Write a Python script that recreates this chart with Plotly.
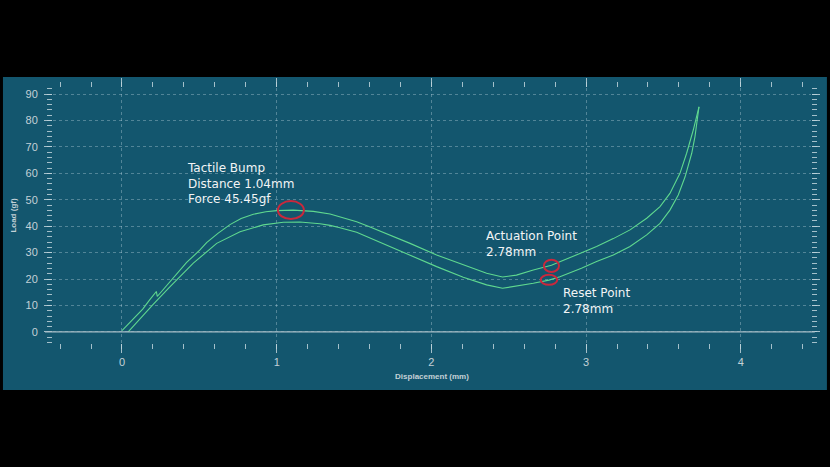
import plotly.graph_objects as go

# ---- data ----
press_x = [0.0, 0.05, 0.134, 0.18, 0.222, 0.228, 0.26, 0.30, 0.35, 0.418, 0.504, 0.547,
           0.62, 0.698, 0.77, 0.849, 0.93, 1.0, 1.107, 1.237, 1.345, 1.45, 1.517, 1.60,
           1.689, 1.862, 2.034, 2.206, 2.357, 2.46, 2.55, 2.659, 2.776, 2.85, 2.96, 3.068,
           3.176, 3.284, 3.392, 3.478, 3.542, 3.607, 3.65, 3.693, 3.73]
press_y = [0.5, 3.5, 8.6, 12.2, 15.3, 13.4, 15.6, 18.6, 22.0, 26.3, 31.0, 33.8,
           37.3, 40.6, 42.9, 44.5, 45.5, 45.9, 46.1, 45.6, 44.6, 43.0, 41.7, 39.8,
           37.7, 33.5, 29.1, 25.3, 22.2, 20.8, 21.5, 23.4, 25.2, 27.0, 29.6, 32.3,
           35.3, 38.6, 43.0, 47.4, 52.4, 60.0, 67.6, 76.4, 85.2]

release_x = [3.73, 3.715, 3.704, 3.683, 3.64, 3.596, 3.542, 3.478, 3.392, 3.284, 3.176,
             3.068, 2.97, 2.831, 2.76, 2.659, 2.594, 2.46, 2.357, 2.206, 2.034, 1.862,
             1.689, 1.517, 1.409, 1.345, 1.28, 1.15, 1.043, 0.913, 0.763, 0.612, 0.461,
             0.396, 0.30, 0.20, 0.10, 0.04]
release_y = [85.2, 78.9, 73.9, 67.6, 58.7, 51.8, 46.1, 41.1, 36.7, 32.3, 29.1,
             26.6, 24.1, 20.9, 19.6, 18.4, 17.8, 16.5, 17.8, 20.7, 24.7, 29.1,
             33.5, 37.7, 39.4, 40.3, 40.9, 41.6, 41.5, 40.5, 37.9, 33.5, 26.0,
             22.2, 16.5, 10.3, 3.8, 0.0]

# annotation texts and marked points
note_texts = ["Tactile Bump<br>Distance 1.04mm<br>Force 45.45gf",
              "Actuation Point<br>2.78mm",
              "Reset Point<br>2.78mm"]
note_x = [0.405, 2.34, 2.836]
note_y = [56.0, 33.2, 11.6]
mark_x = [1.092, 2.776, 2.760]
mark_y = [46.1, 25.0, 19.7]
mark_rx = [0.084, 0.049, 0.054]
mark_ry = [3.4, 2.3, 1.9]

x_ticks = [0, 1, 2, 3, 4]
y_ticks = [0, 10, 20, 30, 40, 50, 60, 70, 80, 90]

TEAL = "#13566e"
LINE = "#5fd88f"
TICKC = "rgba(190,210,218,0.85)"
GRID = "rgba(200,222,232,0.35)"

fig = go.Figure()
fig.add_trace(go.Scatter(x=press_x, y=press_y, mode="lines",
                         line=dict(color=LINE, width=1.1), showlegend=False))
fig.add_trace(go.Scatter(x=release_x, y=release_y, mode="lines",
                         line=dict(color=LINE, width=1.1), showlegend=False))

shapes = []
# background panel
shapes.append(dict(type="rect", xref="paper", yref="paper", x0=-0.066, x1=1.021,
                   y0=-0.184, y1=1.043, fillcolor=TEAL, line=dict(width=0), layer="below"))
# zero line extended
shapes.append(dict(type="line", xref="paper", yref="y", x0=-0.0106, x1=1.005, y0=0, y1=0,
                   line=dict(color="#a9bec7", width=1.3), layer="above"))
for cx, cy, rx, ry in zip(mark_x, mark_y, mark_rx, mark_ry):
    shapes.append(dict(type="circle", xref="x", yref="y", x0=cx - rx, x1=cx + rx,
                       y0=cy - ry, y1=cy + ry, line=dict(color="#c9283c", width=2)))

annotations = []
for t, ax, ay in zip(note_texts, note_x, note_y):
    annotations.append(dict(text=t, x=ax, y=ay, xref="x", yref="y", showarrow=False,
                            xanchor="left", yanchor="middle", align="left",
                            font=dict(family="DejaVu Sans", size=12, color="#f2f4f5")))

tickfont = dict(family="Liberation Sans", size=11, color="#c3d1d7")
titlefont = dict(family="Liberation Sans", size=8, color="#c3d1d7", weight="bold")

fig.update_layout(
    width=830, height=467,
    margin=dict(l=53, r=19, t=88, b=124, autoexpand=False),
    paper_bgcolor="black", plot_bgcolor=TEAL,
    shapes=shapes, annotations=annotations,
    xaxis=dict(range=[-0.446, 4.454], tickvals=x_ticks, ticks="outside", ticklen=9,
               tickcolor=TICKC, tickwidth=1, mirror="ticks", showline=False,
               showgrid=True, gridcolor=GRID, griddash="dot", gridwidth=1,
               zeroline=False, tickfont=tickfont,
               minor=dict(dtick=0.2, tick0=0, ticks="outside", ticklen=5,
                          tickcolor=TICKC, showgrid=False),
               title=dict(text="Displacement (mm)", font=titlefont, standoff=6)),
    yaxis=dict(range=[-4.2, 92.3], tickvals=y_ticks, ticks="outside", ticklen=8,
               tickcolor=TICKC, tickwidth=1, mirror="ticks", showline=False,
               showgrid=True, gridcolor=GRID, griddash="dot", gridwidth=1,
               zeroline=False, tickfont=tickfont, ticklabelstandoff=4,
               minor=dict(dtick=2, tick0=0, ticks="outside", ticklen=5,
                          tickcolor=TICKC, showgrid=False),
               title=dict(text="Load (gf)", font=titlefont, standoff=7)),
)

fig.write_html("out.html", config={"displayModeBar": False},
               post_script="document.body.style.margin='0';")
